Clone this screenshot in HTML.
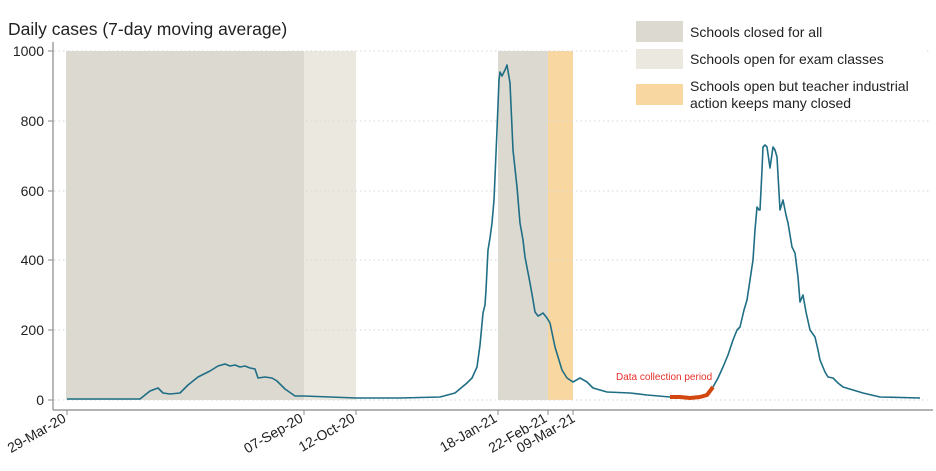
<!DOCTYPE html>
<html><head><meta charset="utf-8"><style>
body{margin:0;background:#fff;}
svg{display:block;font-family:"Liberation Sans",Arial,sans-serif;}
</style></head><body>
<svg width="936" height="471" viewBox="0 0 936 471">
<rect width="936" height="471" fill="#fff"/>
<rect x="66" y="51" width="238" height="349" fill="#dcdad0"/>
<rect x="304" y="51" width="52" height="349" fill="#ebe9df"/>
<rect x="498" y="51" width="50" height="349" fill="#dcdad0"/>
<rect x="548" y="51" width="25" height="349" fill="#f8d7a1"/>
<g stroke="#d6d6d6" stroke-dasharray="1.5,3" stroke-width="1">
<line x1="54" x2="930" y1="51" y2="51"/>
<line x1="54" x2="930" y1="121" y2="121"/>
<line x1="54" x2="930" y1="191" y2="191"/>
<line x1="54" x2="930" y1="260" y2="260"/>
<line x1="54" x2="930" y1="330" y2="330"/>
<line x1="54" x2="930" y1="400" y2="400"/>
</g>
<line x1="53" y1="42" x2="53" y2="410" stroke="#888" stroke-width="1.2"/>
<line x1="53" y1="410" x2="933" y2="410" stroke="#888" stroke-width="1.2"/>
<g stroke="#888">
<line x1="48" x2="53" y1="51" y2="51"/><line x1="48" x2="53" y1="121" y2="121"/>
<line x1="48" x2="53" y1="191" y2="191"/><line x1="48" x2="53" y1="260" y2="260"/>
<line x1="48" x2="53" y1="330" y2="330"/><line x1="48" x2="53" y1="400" y2="400"/>
<line x1="67" x2="67" y1="410" y2="415"/><line x1="304" x2="304" y1="410" y2="415"/>
<line x1="356" x2="356" y1="410" y2="415"/><line x1="498" x2="498" y1="410" y2="415"/>
<line x1="548" x2="548" y1="410" y2="415"/><line x1="573" x2="573" y1="410" y2="415"/>
</g>
<g font-size="14" fill="#222" text-anchor="end">
<text x="44" y="56">1000</text><text x="44" y="126">800</text><text x="44" y="196">600</text>
<text x="44" y="265">400</text><text x="44" y="335">200</text><text x="44" y="405">0</text>
</g>
<g font-size="14" fill="#222" text-anchor="end">
<text transform="translate(67,421) rotate(-30)">29-Mar-20</text>
<text transform="translate(304,421) rotate(-30)">07-Sep-20</text>
<text transform="translate(356,421) rotate(-30)">12-Oct-20</text>
<text transform="translate(498,421) rotate(-30)">18-Jan-21</text>
<text transform="translate(548,421) rotate(-30)">22-Feb-21</text>
<text transform="translate(576,421) rotate(-30)">09-Mar-21</text>
</g>
<text x="8" y="35" font-size="17.5" fill="#222">Daily cases (7-day moving average)</text>
<polyline fill="none" stroke="#1f6e85" stroke-width="1.6" stroke-linejoin="round" points="
67,399 140,399 150,391 158,388 163,393 170,394 180,393 188,385 198,377 210,371 218,366 225,364 230,366 235,365 240,367 245,366 250,368 255,369 258,378 265,377 272,378 277,381 285,389 295,396 304,396 330,397 356,398 400,398 440,397 455,393 467,383 472,378 477,367 480,345 483,313 485,305 486,290 488,250 490,238 492,223 494,200 495,177 497,130 499,80 500,72 502,76 505,70 507,65 510,83 513,150 517,187 520,223 523,240 525,257 530,283 533,300 535,312 538,316 540,315 543,313 547,318 550,323 555,347 562,370 567,378 573,382 580,378 587,382 593,388 607,392 630,393 647,395 670,397"/>
<polyline fill="none" stroke="#1f6e85" stroke-width="1.6" stroke-linejoin="round" points="
713,387 718,378 723,367 728,355 733,340 737,330 740,327 744,310 747,300 750,280 753,260 755,230 757,207 759,210 760,210 762,170 763,147 765,145 767,147 770,168 773,147 775,150 777,157 780,210 783,200 786,215 788,223 792,247 795,253 798,277 800,302 803,295 806,312 810,330 815,337 818,350 820,360 825,372 828,377 833,378 838,383 843,387 853,390 863,393 880,397 920,398"/>
<polyline fill="none" stroke="#d2460f" stroke-width="4" stroke-linejoin="round" points="670,397 680,397 690,398 700,397 707,395 713,387"/>
<text x="616" y="380" font-size="10" fill="#e8302a">Data collection period</text>
<rect x="630" y="15" width="296" height="104" fill="#fff"/>
<rect x="636" y="21" width="47" height="21" fill="#dcdad0"/>
<rect x="636" y="49" width="47" height="20" fill="#ebe9df"/>
<rect x="636" y="84" width="47" height="21" fill="#f8d7a1"/>
<g font-size="14" fill="#222">
<text x="690" y="37">Schools closed for all</text>
<text x="690" y="64">Schools open for exam classes</text>
<text x="690" y="91">Schools open but teacher industrial</text>
<text x="690" y="108">action keeps many closed</text>
</g>
</svg>
</body></html>
